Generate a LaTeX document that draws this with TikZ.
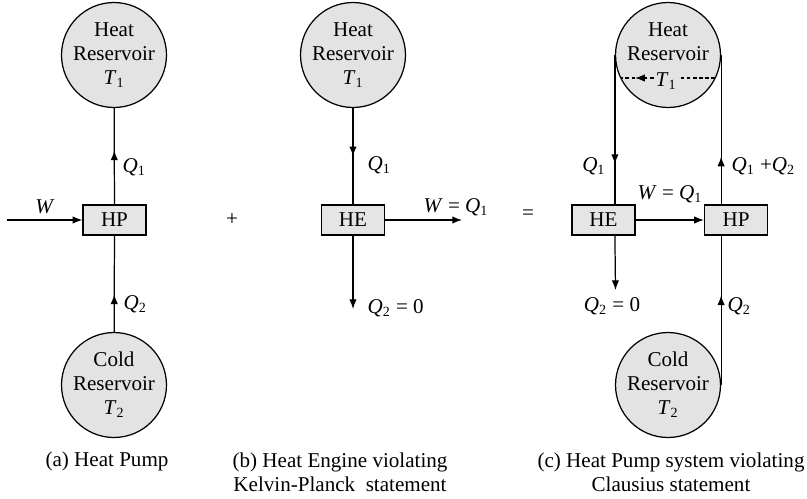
\documentclass[tikz,border=0pt]{standalone}
\usepackage{fontspec}
\setmainfont{Liberation Serif}
\usetikzlibrary{arrows.meta,decorations.markings}
\newcommand{\Qs}[1]{\textit{Q}\textsubscript{#1}}
\newcommand{\Ts}[1]{\textit{T}\textsubscript{#1}}
\definecolor{resfill}{gray}{0.89}
\definecolor{boxfill}{gray}{0.9}
\tikzset{
  res/.style={circle,draw,fill=resfill,minimum size=2.1cm,align=center},
  dev/.style={draw,fill=boxfill,minimum width=1.26cm,minimum height=0.6cm},
  midarrow/.style={postaction={decorate},decoration={markings,
    mark=at position #1 with {\arrow{Latex[length=5.5pt,width=4.2pt]}}}},
  endarrow/.style={-{Latex[length=5.5pt,width=4.2pt]}}
}
\begin{document}
\begin{tikzpicture}[x=0.02cm,y=-0.02cm,line width=0.7pt,
  every node/.style={font=\fontsize{12}{13.6}\selectfont,inner sep=0pt}]
\useasboundingbox (0,0) rectangle (807,498);
% (a)
\node[res] (hotA) at (114,55) {Heat\\Reservoir\\\Ts{1}};
\node[dev] (hpA) at (114.5,220) {HP};
\node[res] (coldA) at (114,385) {Cold\\Reservoir\\\Ts{2}};
\coordinate (wA) at (7,220);
\draw[endarrow] (wA) -- (hpA);
\draw[midarrow=0.56] (hpA) -- (hotA);
\draw[midarrow=0.39] (coldA) -- (hpA);
\node (wlA) at (45,207) {\textit{W}};
\node[anchor=west] (q1A) at (122,167) {\Qs{1}};
\node[anchor=west] (q2A) at (123,304) {\Qs{2}};
\node (plus) at (232,220) {+};
% (b)
\node[res] (hotB) at (353,55) {Heat\\Reservoir\\\Ts{1}};
\node[dev] (heB) at (353,220) {HE};
\coordinate (wB) at (462,220);
\coordinate (qB) at (353,309);
\draw[midarrow=0.5] (hotB) -- (heB);
\draw[endarrow] (heB) -- (wB);
\draw[endarrow] (heB) -- (qB);
\node[anchor=west] (q1B) at (367,165) {\Qs{1}};
\node[anchor=west] (wlB) at (423,207) {\textit{W} = \Qs{1}};
\node[anchor=west] (q2B) at (367,308) {\Qs{2} = 0};
\node (eq) at (528,215) {=};
% (c)
\node[res] (hotC) at (668,55) {Heat\\Reservoir\\\phantom{\Ts{1}}};
\node[dev] (heC) at (603.5,220) {HE};
\node[dev] (hpC) at (736,220) {HP};
\node[res] (coldC) at (668,385) {Cold\\Reservoir\\\Ts{2}};
\coordinate (chE) at (715,78);
\coordinate (chW) at (621,78);
\draw[line width=0.6pt,dash pattern=on 2pt off 1.5pt,midarrow=0.85] (chE) -- (chW);
\node[fill=resfill,inner sep=1pt] (t1C) at (666,81) {\Ts{1}};
\draw[midarrow=0.73] (hotC.west) -- (hotC.west |- heC.north);
\draw[midarrow=0.32] (hotC.east |- hpC.north) -- (hotC.east);
\draw[endarrow] (heC) -- (hpC);
\coordinate (qC) at (615.5,290);
\draw[endarrow] (hotC.west |- heC.south) -- (qC);
\draw[midarrow=0.6] (coldC.east) -- (coldC.east |- hpC.south);
\node[anchor=east] (q1C) at (606,166) {\Qs{1}};
\node[anchor=west] (q12C) at (731,166) {\Qs{1} +\Qs{2}};
\node (wlC) at (670,194) {\textit{W} = \Qs{1}};
\node (q20C) at (612,306) {\Qs{2} = 0};
\node[anchor=west] (q2C) at (727,306) {\Qs{2}};
% captions
\node (capA) at (107,461) {(a) Heat Pump};
\node[align=center] (capB) at (340,472) {(b) Heat Engine violating\\Kelvin-Planck\ \ statement};
\node[align=center] (capC) at (671,472) {(c) Heat Pump system violating\\Clausius statement};
\end{tikzpicture}
\end{document}
